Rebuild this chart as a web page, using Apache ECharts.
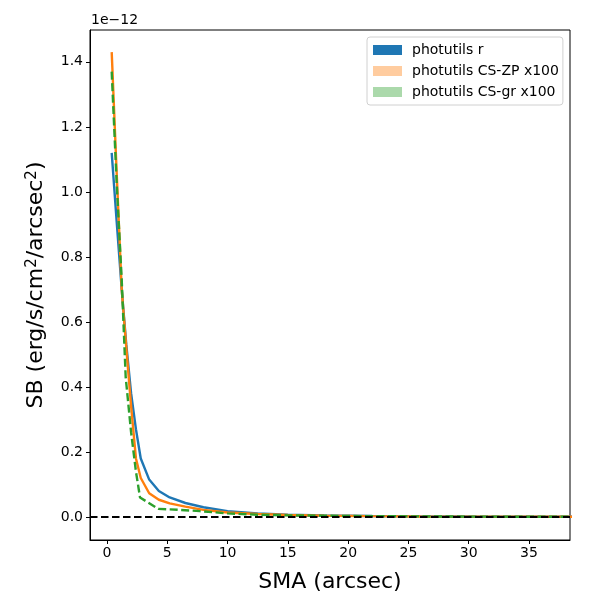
<!DOCTYPE html>
<html><head><meta charset="utf-8">
<script src="https://cdn.jsdelivr.net/npm/echarts@6/dist/echarts.min.js"></script>
<style>html,body{margin:0;padding:0;background:#fff}#c{width:600px;height:600px}</style>
</head><body><div id="c"></div>
<script>
// SMA (arcsec) and surface brightness (units of 1e-12 erg/s/cm^2/arcsec^2)
const smaR = [0.39,0.8,1.22,1.6,2.0,2.4,2.8,3.5,4.3,5.2,6.5,8,10,12.5,15,18,22,26,30,35,40];
const sbR  = [1.12,0.91,0.70,0.53,0.38,0.27,0.18,0.115,0.08,0.06,0.043,0.03,0.018,0.011,0.007,0.0045,0.003,0.002,0.0015,0.001,0.0008];
const smaZP = [0.39,0.8,1.22,1.6,2.0,2.4,2.8,3.5,4.3,5.2,6.5,8,10,12.5,15,18,22,26,30,35,40];
const sbZP  = [1.43,1.06,0.70,0.52,0.34,0.18,0.12,0.073,0.053,0.042,0.032,0.022,0.014,0.009,0.006,0.004,0.0025,0.0017,0.0012,0.0008,0.0005];
const smaGR = [0.39,0.8,1.22,1.55,2.0,2.4,2.74,4.25,6,7.7,10,12.5,15,20,25,30,35,40];
const sbGR  = [1.37,1.03,0.73,0.43,0.26,0.14,0.06,0.025,0.022,0.018,0.011,0.007,0.005,0.003,0.002,0.0012,0.0008,0.0005];
const xTicks = [0,5,10,15,20,25,30,35];
const yTicks = [0,0.2,0.4,0.6,0.8,1.0,1.2,1.4];
const seriesNames = ['photutils r','photutils CS-ZP x100','photutils CS-gr x100'];

const pairs = (xs, ys) => xs.map((x,i)=>[x, ys[i]]);
const font = 'DejaVu Sans';
const chart = echarts.init(document.getElementById('c'));
chart.setOption({
  animation: false,
  grid: {left: 90, right: 30, top: 30, bottom: 60, containLabel: false,
         show: true, borderColor: '#000', borderWidth: 1},
  xAxis: {
    type: 'value', min: -1.41, max: 38.4,
    name: 'SMA (arcsec)', nameLocation: 'middle', nameGap: 31,
    nameTextStyle: {fontFamily: font, fontSize: 22, color: '#000'},
    axisLine: {show: true, onZero: false, lineStyle: {color: '#000'}},
    axisTick: {show: true, customValues: xTicks, length: 4, lineStyle: {color: '#000'}},
    axisLabel: {customValues: xTicks, fontFamily: font, fontSize: 14, color: '#000', margin: 6},
    splitLine: {show: false}
  },
  yAxis: {
    type: 'value', min: -0.0708, max: 1.498,
    name: 'SB (erg/s/cm{sup|2}/arcsec{sup|2})', nameLocation: 'middle', nameGap: 42, nameRotate: 90,
    nameTextStyle: {fontFamily: font, fontSize: 22, color: '#000',
      rich: {sup: {fontFamily: font, fontSize: 15, color: '#000', verticalAlign: 'top', padding: [0,0,8,0]}}},
    axisLine: {show: true, onZero: false, lineStyle: {color: '#000'}},
    axisTick: {show: true, customValues: yTicks, length: 4, lineStyle: {color: '#000'}},
    axisLabel: {customValues: yTicks, fontFamily: font, fontSize: 14, color: '#000', margin: 7,
                formatter: v => v.toFixed(1)},
    splitLine: {show: false}
  },
  legend: {
    orient: 'vertical', left: 367, top: 37, icon: 'rect',
    itemWidth: 29, itemHeight: 10, itemGap: 7,
    padding: [6, 4, 6, 6],
    borderColor: '#d0d0d0', borderWidth: 1, borderRadius: 3, backgroundColor: '#fff',
    textStyle: {fontFamily: font, fontSize: 14, color: '#000', padding: [0,0,0,5]},
    data: [
      {name: seriesNames[0], itemStyle: {color: '#1f77b4'}},
      {name: seriesNames[1], itemStyle: {color: 'rgba(255,127,14,0.4)'}},
      {name: seriesNames[2], itemStyle: {color: 'rgba(44,160,44,0.4)'}}
    ]
  },
  graphic: [{type: 'text', left: 91, top: 13,
    style: {text: '1e\u221212', font: '14px "DejaVu Sans"', fill: '#000'}}],
  series: [
    {name: seriesNames[0], type: 'line', data: pairs(smaR, sbR), showSymbol: false, symbol: 'none',
     lineStyle: {color: '#1f77b4', width: 2.4}, itemStyle: {color: '#1f77b4'}, z: 2,
     markLine: {silent: true, symbol: 'none', label: {show: false},
       lineStyle: {color: '#000', type: [7.5, 3.5], width: 2}, data: [{yAxis: 0}]}},
    {name: seriesNames[1], type: 'line', data: pairs(smaZP, sbZP), showSymbol: false, symbol: 'none',
     lineStyle: {color: '#ff7f0e', width: 2.4}, itemStyle: {color: '#ff7f0e'}, z: 3},
    {name: seriesNames[2], type: 'line', data: pairs(smaGR, sbGR), showSymbol: false, symbol: 'none',
     lineStyle: {color: '#2ca02c', width: 2.4, type: [8, 3.5]}, itemStyle: {color: '#2ca02c'}, z: 4}
  ]
});
</script></body></html>
